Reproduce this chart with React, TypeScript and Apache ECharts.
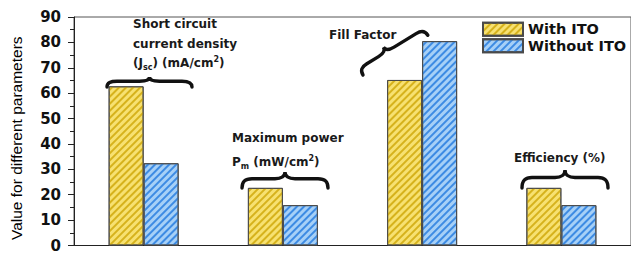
import React, { useEffect, useRef } from "react";
import * as echarts from "echarts";

// ---- data ----
const categories = ["Jsc", "Pm", "FF", "Efficiency"];
const seriesNames = ["With ITO", "Without ITO"];
const withITO = [62.7, 22.7, 65.2, 22.7];
const withoutITO = [32.4, 15.9, 80.5, 15.9];
const yMin = 0;
const yMax = 90;
const yInterval = 10;
const yTitle = "Value for different parameters";

// ---- styling ----
const YELLOW = "#F7E171";
const YELLOW_STRIPE = "#D6B21C";
const BLUE = "#A6D0F7";
const BLUE_STRIPE = "#3D8BE3";
const BORDER = "#4a4a4a";
const BOLD_FONT = "DejaVu Sans";

function bracePath(w: number, h: number, tipFrac = 0.5, armFrac = 0.42) {
  const tx = w * tipFrac;
  const ay = h * armFrac;
  const r = Math.min(w * 0.12, 10);
  const e = ay + (h - ay) * 0.25;
  return (
    `M0 ${h} C0 ${e} ${r * 0.35} ${ay} ${r} ${ay} ` +
    `L${tx - r} ${ay} C${tx - r * 0.35} ${ay} ${tx} ${ay * 0.6} ${tx} 0 ` +
    `C${tx} ${ay * 0.6} ${tx + r * 0.35} ${ay} ${tx + r} ${ay} ` +
    `L${w - r} ${ay} C${w - r * 0.35} ${ay} ${w} ${e} ${w} ${h}`
  );
}

function makeDecal(color: string) {
  return {
    symbol: "rect",
    symbolSize: 1,
    color,
    dashArrayX: [1, 0],
    dashArrayY: [1.3, 2.1],
    rotation: -Math.PI / 4,
  };
}

export default function App() {
  const ref = useRef<HTMLDivElement>(null);
  useEffect(() => {
    const el = ref.current!;
    echarts.graphic.registerShape("brace1", echarts.graphic.extendPath(bracePath(85, 10), {}));
    echarts.graphic.registerShape("brace2", echarts.graphic.extendPath(bracePath(86, 16), {}));
    echarts.graphic.registerShape("brace3", echarts.graphic.extendPath(bracePath(76, 13, 0.42), {}));
    echarts.graphic.registerShape("brace4", echarts.graphic.extendPath(bracePath(86, 18), {}));

    const chart = echarts.init(el, undefined, { renderer: "svg" });
    const braceStyle = { stroke: "#111", lineWidth: 3.4, fill: "none", lineCap: "round" };
    const txt = (x: number, y: number, text: string, rich?: any) => ({
      type: "text",
      x,
      y,
      z: 100,
      style: {
        text,
        fill: "#1a1a1a",
        fontFamily: BOLD_FONT,
        fontWeight: "bold",
        fontSize: 12,
        align: "left",
        verticalAlign: "middle",
        rich,
      },
    });
    const subRich = {
      sub: { fontFamily: BOLD_FONT, fontWeight: "bold", fontSize: 8, fill: "#1a1a1a", padding: [8, 0, 0, 0] },
      sup: { fontFamily: BOLD_FONT, fontWeight: "bold", fontSize: 8, fill: "#1a1a1a", padding: [0, 0, 8, 0] },
    };
    const theta = 0.55;
    const b3h = 13;

    const option: any = {
      animation: false,
      aria: { enabled: true, decal: { show: true } },
      grid: {
        left: 72,
        right: -4,
        top: 17,
        bottom: 4,
        show: true,
        borderColor: "#555",
        borderWidth: 1,
        backgroundColor: "transparent",
      },
      legend: {
        orient: "vertical",
        left: 482,
        top: 21.5,
        padding: 0,
        itemWidth: 40,
        itemHeight: 13,
        itemGap: 1,
        icon: "rect",
        data: seriesNames,
        textStyle: {
          fontFamily: BOLD_FONT,
          fontWeight: "bold",
          fontSize: 14.5,
          color: "#111",
          lineHeight: 15.5,
        },
      },
      xAxis: {
        type: "category",
        data: categories,
        axisLabel: { show: false },
        axisLine: { lineStyle: { color: "#222", width: 1 } },
        axisTick: { alignWithLabel: true, length: 5, lineStyle: { color: "#222" } },
        splitLine: { show: false },
      },
      yAxis: {
        type: "value",
        min: yMin,
        max: yMax,
        interval: yInterval,
        name: yTitle,
        nameLocation: "middle",
        nameGap: 50,
        nameTextStyle: {
          fontFamily: "Liberation Sans",
          fontSize: 15.5,
          color: "#000",
          padding: [0, 14, 0, 0],
        },
        axisLine: { show: true, lineStyle: { color: "#222", width: 1 } },
        axisTick: { show: true, length: 6, lineStyle: { color: "#222" } },
        minorTick: { show: true, splitNumber: 2, length: 4, lineStyle: { color: "#222" } },
        splitLine: { show: false },
        axisLabel: {
          fontFamily: BOLD_FONT,
          fontWeight: "bold",
          fontSize: 15,
          color: "#111",
          margin: 13,
        },
      },
      series: [
        {
          name: seriesNames[0],
          type: "bar",
          data: withITO,
          barWidth: 35,
          barGap: "0%",
          itemStyle: { color: YELLOW, borderColor: BORDER, borderWidth: 1, decal: makeDecal(YELLOW_STRIPE) },
        },
        {
          name: seriesNames[1],
          type: "bar",
          data: withoutITO,
          barWidth: 35,
          barGap: "0%",
          itemStyle: { color: BLUE, borderColor: BORDER, borderWidth: 1, decal: makeDecal(BLUE_STRIPE) },
        },
      ],
      graphic: [
        txt(133, 24, "Short circuit"),
        txt(133, 44, "current density"),
        txt(133, 63, "(J{sub|sc}) (mA/cm{sup|2})", subRich),
        { type: "brace1", x: 107, y: 77, z: 100, style: braceStyle },
        txt(232, 138, "Maximum power"),
        txt(232, 162, "P{sub|m} (mW/cm{sup|2})", subRich),
        { type: "brace2", x: 242, y: 172, z: 100, style: braceStyle },
        txt(329, 35, "Fill Factor"),
        {
          type: "brace3",
          x: 363 - b3h * Math.sin(theta),
          y: 75 - b3h * Math.cos(theta),
          rotation: theta,
          z: 100,
          style: braceStyle,
        },
        txt(514, 158, "Efficiency (%)"),
        { type: "brace4", x: 522, y: 170, z: 100, style: braceStyle },
      ],
    };
    chart.setOption(option);
    return () => chart.dispose();
  }, []);
  return (
    <div
      ref={ref}
      style={{ position: "fixed", left: 0, top: 0, width: 631, height: 253, background: "#fff" }}
    />
  );
}
